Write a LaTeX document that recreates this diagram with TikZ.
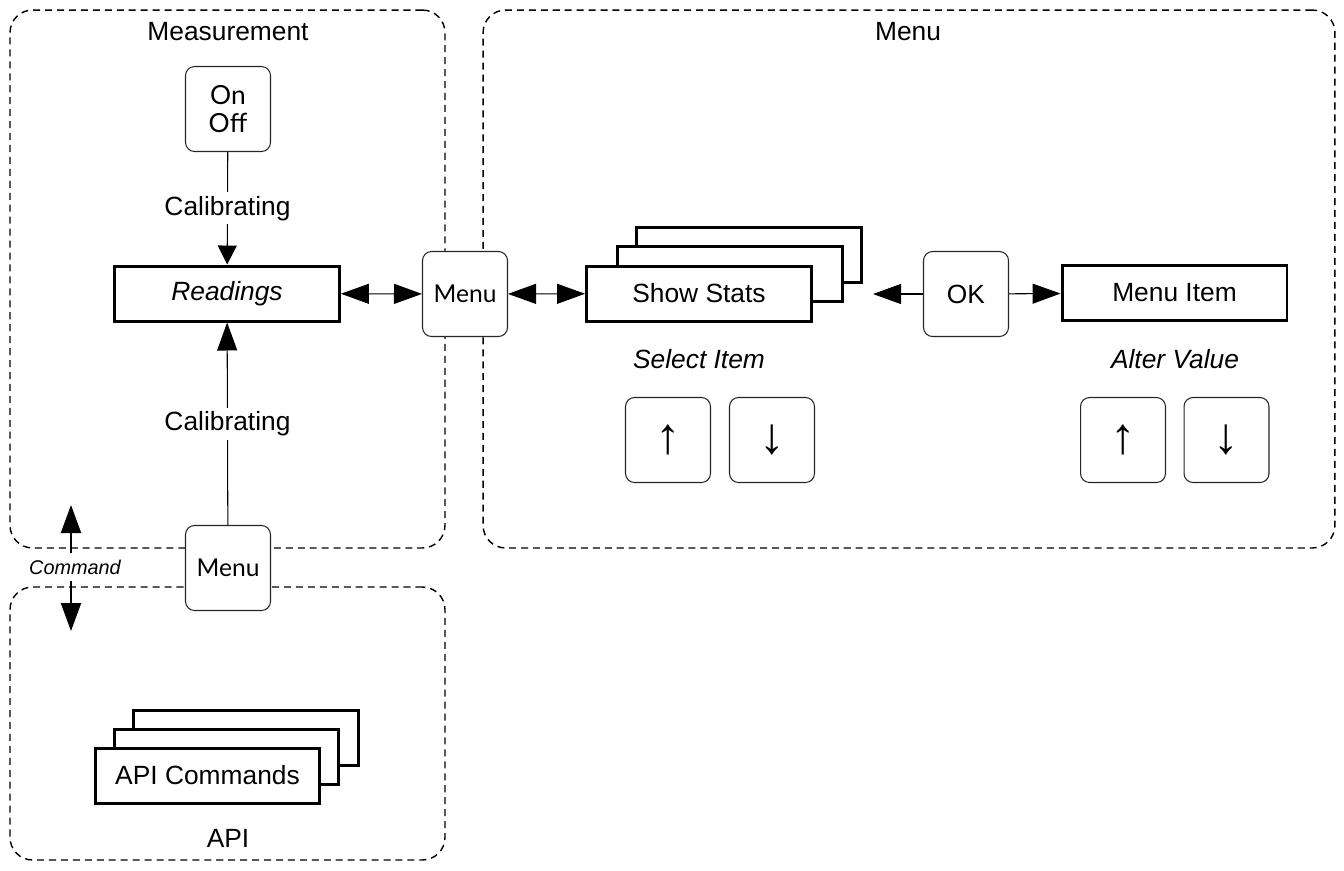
\documentclass[tikz,border=0pt]{standalone}
\usepackage{fontspec}
\setmainfont{Liberation Sans}
\newfontfamily\keyfont{Lato}
\usetikzlibrary{arrows.meta}

\tikzset{
  group/.style={draw, dash pattern=on 4pt off 2.8pt, line width=0.8pt, rounded corners=0.45cm},
  keybox/.style={draw=black!85, fill=white, line width=0.6pt, rounded corners=0.18cm, minimum size=1.7cm, inner sep=0pt, align=center, font=\keyfont\fontsize{14}{15}\selectfont},
  arrowkey/.style={keybox, font=\fontsize{29}{30}\selectfont},
  statebox/.style={draw, fill=white, line width=1.7pt, minimum width=4.5cm, minimum height=1.1cm, inner sep=0pt, font=\fontsize{15}{18}\selectfont},
  caption/.style={font=\fontsize{15}{18}\selectfont},
  tip/.style={-{Triangle[length=0.56cm,width=0.4cm]}},
  twotip/.style={{Triangle[length=0.56cm,width=0.4cm]}-{Triangle[length=0.56cm,width=0.4cm]}},
}

\begin{document}
\begin{tikzpicture}[x=0.02cm, y=-0.02cm, line width=0.6pt]
\useasboundingbox (0,0) rectangle (1344,870);

% the three groups
\node[group, minimum width=8.7cm, minimum height=10.76cm] (meas) at (227.5,279) {};
\node[group, minimum width=17.04cm, minimum height=10.76cm] (menu) at (909,279) {};
\node[group, minimum width=8.7cm, minimum height=5.46cm] (api) at (227.5,723.5) {};
\node[caption] (meastitle) at (228,32) {Measurement};
\node[caption] (menutitle) at (908,32) {Menu};
\node[caption] (apititle) at (228,838) {API};

% measurement
\node[keybox, font=\keyfont\fontsize{15}{16}\selectfont] (onoff) at (228,109) {On\\Off};
\node[statebox] (readings) at (227,293.5) {\itshape Readings};
\node[keybox] (menukey) at (465,294) {Menu};
\node[keybox] (apikey) at (228,568) {Menu};
\draw[-{Triangle[length=0.38cm,width=0.38cm]}] (onoff) -- node[caption, fill=white, inner sep=2pt] {Calibrating} (readings);
\draw[tip] (apikey) -- node[caption, fill=white, inner sep=2pt] {Calibrating} (readings);
\draw[twotip] (readings) -- (menukey);

% command
\node[font=\itshape\fontsize{11.3}{13}\selectfont] (cmd) at (75,567) {Command};
\coordinate (cmdup) at (71,505);
\coordinate (cmddown) at (71,631);
\draw[tip, line width=1.2pt] (cmd.north -| cmdup) -- (cmdup);
\draw[tip, line width=1.2pt] (cmd.south -| cmddown) -- (cmddown);

% menu
\node[statebox] (stats3) at (749,254.5) {};
\node[statebox] (stats2) at (730,274) {};
\node[statebox] (stats) at (699,293.5) {Show Stats};
\node[keybox, font=\fontsize{15}{18}\selectfont] (ok) at (966,294) {OK};
\node[statebox] (item) at (1174.5,293) {Menu Item};
\coordinate (okleft) at (873,294);
\draw[twotip] (menukey) -- (stats);
\draw[tip] (ok) -- (okleft);
\draw[tip] (ok) -- (item);
\node[caption, font=\itshape\fontsize{15}{18}\selectfont] (select) at (699,359) {Select Item};
\node[caption, font=\itshape\fontsize{15}{18}\selectfont] (alter) at (1175,359) {Alter Value};
\node[arrowkey] (selup) at (668,440) {↑};
\node[arrowkey] (seldown) at (772,440) {↓};
\node[arrowkey] (altup) at (1123,440) {↑};
\node[arrowkey] (altdown) at (1226.5,440) {↓};

% api
\node[statebox] (cmds3) at (246,737.5) {};
\node[statebox] (cmds2) at (226.5,756.5) {};
\node[statebox] (cmds) at (207.5,775.5) {API Commands};
\end{tikzpicture}
\end{document}
